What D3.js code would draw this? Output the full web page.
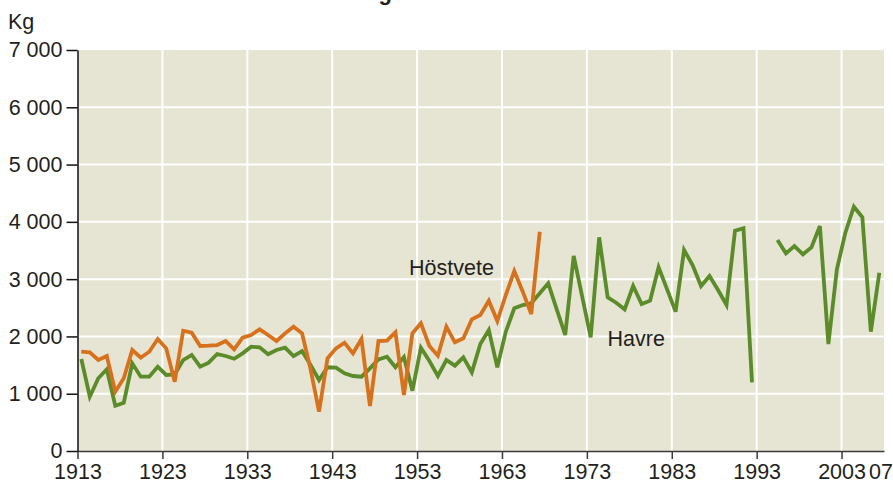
<!DOCTYPE html>
<html>
<head>
<meta charset="utf-8">
<script src="https://cdn.jsdelivr.net/npm/d3@7"></script>
<style>
  body { margin: 0; background: #fff; }
  svg text { font-family: "Liberation Sans", Arial, sans-serif; fill: #231f20; }
</style>
</head>
<body>
<div id="chart"></div>
<script>
// yield per hectare, kg
let startYear = 1913;
let havre = [1606, 948, 1269, 1426, 791, 843, 1530, 1297, 1297, 1472, 1327, 1338, 1588, 1676, 1472, 1542, 1693, 1658, 1610,
    1705, 1821, 1810, 1688, 1763, 1804, 1658, 1745, 1501, 1239, 1461, 1454, 1356, 1309, 1297, 1443, 1600, 1646, 1461, 1640,
    1053, 1804, 1571, 1309, 1588, 1489, 1635, 1373, 1868, 2112, 1461, 2083, 2491, 2548, 2578, 2753, 2927, 2473, 2025, 3404,
    2694, 1984, 3730, 2683, 2589, 2473, 2880, 2566, 2624, 3206, 2822, 2432, 3508, 3247, 2880, 3055, 2810, 2548, 3845, 3887, 1199,
    null, null,
    3683, 3450, 3578, 3433, 3555, 3927, 1868, 3171, 3811, 4264, 4079, 2083, 3113];
let hostvete = [1733, 1722, 1588, 1658, 1035, 1269, 1763, 1629, 1733, 1955, 1792, 1210, 2100, 2065, 1833, 1838, 1850, 1920, 1775,
    1978, 2025, 2124, 2025, 1920, 2054, 2170, 2054, 1430, 686, 1618, 1792, 1890, 1705, 1955, 785, 1920, 1926, 2072, 977,
    2054, 2229, 1833, 1664, 2170, 1897, 1967, 2299, 2374, 2624, 2269, 2723, 3142, 2781, 2391, 3828];
let xTicks = [1913, 1923, 1933, 1943, 1953, 1963, 1973, 1983, 1993, 2003];
let yTicks = [0, 1000, 2000, 3000, 4000, 5000, 6000, 7000];

let width = 893, height = 484;
let margin = { top: 50, right: 9, bottom: 33, left: 77.5 };

let svg = d3.select('#chart').append('svg')
    .attr('width', width).attr('height', height);

let xScale = d3.scaleLinear().domain([1913, 2008]).range([margin.left, width - margin.right]);
let yScale = d3.scaleLinear().domain([0, 7000]).range([height - margin.bottom, margin.top]);

// plot background
svg.append('rect')
    .attr('x', xScale(1913)).attr('y', yScale(7000))
    .attr('width', xScale(2008) - xScale(1913))
    .attr('height', yScale(0) - yScale(7000))
    .attr('fill', '#e6e4d3');

// grid
svg.append('g').selectAll('line').data(yTicks.filter(d => d > 0 && d < 7000))
    .join('line')
    .attr('x1', xScale(1913)).attr('x2', xScale(2008))
    .attr('y1', d => yScale(d)).attr('y2', d => yScale(d))
    .attr('stroke', '#fff').attr('stroke-width', 2);
svg.append('g').selectAll('line').data(xTicks.slice(1))
    .join('line')
    .attr('x1', d => xScale(d)).attr('x2', d => xScale(d))
    .attr('y1', yScale(0)).attr('y2', yScale(7000))
    .attr('stroke', '#fff').attr('stroke-width', 2);

// axes
let xAxis = d3.axisBottom(xScale).tickValues(xTicks).tickFormat(d3.format('d'))
    .tickSizeInner(8).tickSizeOuter(0).tickPadding(5);
let gx = svg.append('g').attr('transform', 'translate(0,' + yScale(0) + ')').call(xAxis);
gx.select('.domain').attr('stroke', '#3a3a3a').attr('stroke-width', 1.5);
gx.selectAll('.tick line').attr('stroke', '#3a3a3a').attr('stroke-width', 1.5);
gx.selectAll('.tick text').style('font-size', '21.5px');
gx.append('text').attr('x', xScale(2007) + 5.5).attr('y', 13).attr('dy', '0.71em')
    .attr('text-anchor', 'middle').style('font-size', '21.5px').text('07');

let yAxis = d3.axisLeft(yScale).tickValues(yTicks)
    .tickFormat(d => d === 0 ? '0' : (d / 1000) + ' 000')
    .tickSizeInner(11).tickSizeOuter(0).tickPadding(4);
let gy = svg.append('g').attr('transform', 'translate(' + xScale(1913) + ',0)').call(yAxis);
gy.select('.domain').attr('stroke', '#111').attr('stroke-width', 1.5);
gy.selectAll('.tick line').attr('stroke', '#111').attr('stroke-width', 1.5);
gy.selectAll('.tick text').style('font-size', '21.5px');

svg.append('text').attr('x', 8).attr('y', 29).style('font-size', '21.5px').text('Kg');

// cut off title, only the descender shows
svg.append('text').attr('x', 392).attr('y', 0).attr('text-anchor', 'end')
    .style('font-size', '22px').style('font-weight', 'bold').text('Skördeutveckling');

// lines
let line = d3.line()
    .defined(d => d != null)
    .x((d, i) => xScale(startYear + i + 0.45))
    .y(d => yScale(d));

svg.append('path').datum(havre)
    .attr('fill', 'none').attr('stroke', '#5b8c29').attr('stroke-width', 3.8)
    .attr('stroke-linejoin', 'miter').attr('d', line);
svg.append('path').datum(hostvete)
    .attr('fill', 'none').attr('stroke', '#d7711c').attr('stroke-width', 3.8)
    .attr('stroke-linejoin', 'miter').attr('d', line);

svg.append('text').attr('x', 409).attr('y', 274.5).style('font-size', '21.5px').text('Höstvete');
svg.append('text').attr('x', 607.5).attr('y', 346).style('font-size', '21.5px').text('Havre');
</script>
</body>
</html>
